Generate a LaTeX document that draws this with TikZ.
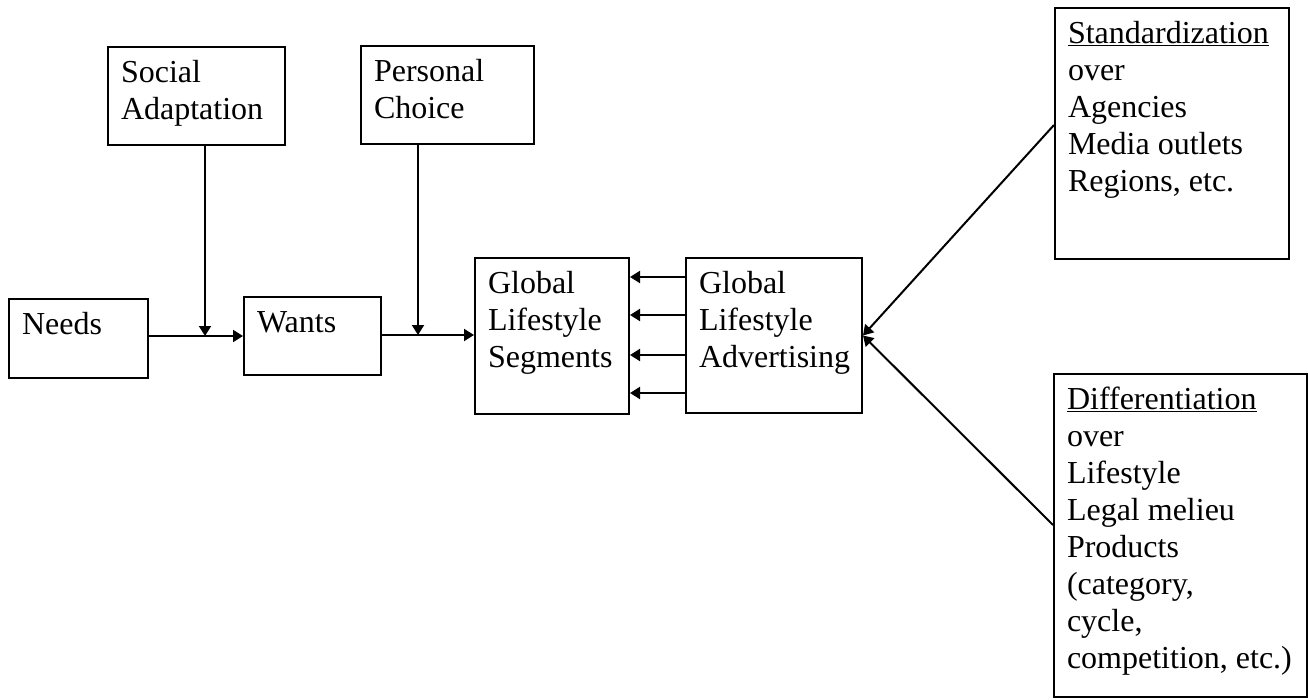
\documentclass[tikz,border=0pt]{standalone}
\usepackage{fontspec}
\setmainfont{Liberation Serif}
\usetikzlibrary{arrows.meta}

% top-aligned, left-aligned box content of fixed size
\newcommand\bxtext[3]{\parbox[t][#2][t]{#1}{\raggedright\strut #3}}

\begin{document}
\begin{tikzpicture}[x=1pt,y=-1pt,
  every node/.style={font=\fontsize{32}{37}\selectfont},
  box/.style={draw, line width=2pt, anchor=north west,
              inner xsep=13pt, inner ysep=10pt},
  arr/.style={line width=2pt, -{Triangle[length=10pt,width=12pt]}}]
\useasboundingbox (0,0) rectangle (1308,699);

% boxes
\node[box] (soc)   at (107,46)  {\bxtext{151pt}{78pt}{Social\\Adaptation}};
\node[box] (per)   at (360,45)  {\bxtext{147pt}{78pt}{Personal\\Choice}};
\node[box] (needs) at (8,298)   {\bxtext{113pt}{59pt}{Needs}};
\node[box] (wants) at (243,296) {\bxtext{111pt}{58pt}{Wants}};
\node[box] (seg)   at (474,257) {\bxtext{128pt}{136pt}{Global\\Lifestyle\\Segments}};
\node[box] (adv)   at (685,257) {\bxtext{150pt}{135pt}{Global\\Lifestyle\\Advertising}};
\node[box] (std)   at (1054,7)  {\bxtext{208pt}{231pt}{\underline{Standardization}\\over\\Agencies\\Media outlets\\Regions, etc.}};
\node[box] (dif)   at (1053,373){\bxtext{227pt}{303pt}{\underline{Differentiation}\\over\\Lifestyle\\Legal melieu\\Products\\(category,\\cycle,\\competition,~etc.)}};

% junctions on the main flow line
\coordinate (j1) at (205,336);
\coordinate (j2) at (418,335);

% main flow
\draw[arr] (soc.south -| j1) -- (j1);
\draw[arr] (needs.east |- j1) -- (wants.west |- j1);
\draw[arr] (per.south -| j2) -- (j2);
\draw[arr] (wants.east |- j2) -- (seg.west |- j2);

% advertising feeding the segments
\foreach \yy in {277,315,355,393}
  \draw[arr] (adv.west |- 0,\yy) -- (seg.east |- 0,\yy);

% standardization / differentiation into advertising
\draw[arr] (std.west |- 0,125) -- (adv.east);
\draw[arr] (dif.west |- 0,525) -- (adv.east);
\end{tikzpicture}
\end{document}
